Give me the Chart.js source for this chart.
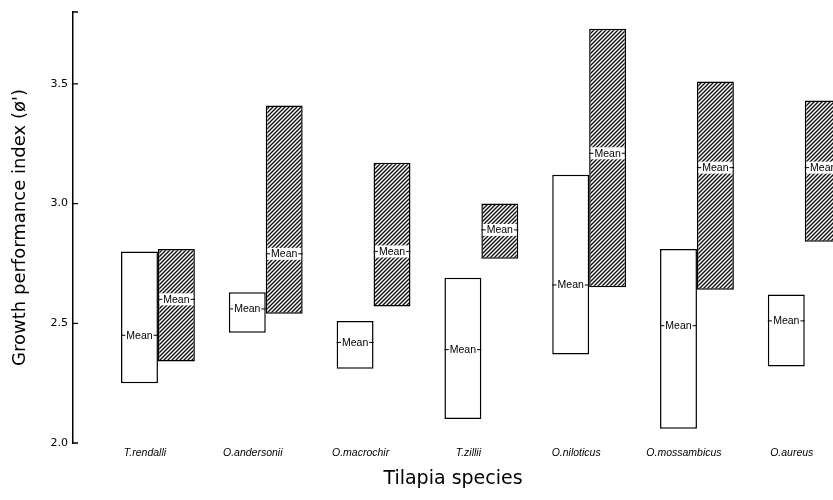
<!DOCTYPE html>
<html>
<head>
<meta charset="utf-8">
<script src="https://cdn.jsdelivr.net/npm/chart.js@4/dist/chart.umd.min.js"></script>
<style>
  body { margin: 0; background: #fff; }
  #wrap { width: 833px; height: 500px; }
</style>
</head>
<body>
<div id="wrap"><canvas id="tilapiaChart" width="833" height="500"></canvas></div>
<script>
// Data
const species = ['T.rendalli', 'O.andersonii', 'O.macrochir', 'T.zillii', 'O.niloticus', 'O.mossambicus', 'O.aureus'];
const openLow   = [2.25, 2.46, 2.31, 2.10, 2.37, 2.06, 2.32];
const openHigh  = [2.80, 2.63, 2.51, 2.69, 3.12, 2.81, 2.62];
const openMean  = [2.45, 2.56, 2.42, 2.39, 2.66, 2.49, 2.51];
const hatchLow  = [2.34, 2.54, 2.57, 2.77, 2.65, 2.64, 2.84];
const hatchHigh = [2.81, 3.41, 3.17, 3.00, 3.73, 3.51, 3.43];
const hatchMean = [2.60, 2.79, 2.80, 2.89, 3.21, 3.15, 3.15];
const yTicks = [2.0, 2.5, 3.0, 3.5];

const ctx = document.getElementById('tilapiaChart').getContext('2d');

// diagonal hatching "////"
function makeHatch() {
    const c = document.createElement('canvas');
    c.width = 4; c.height = 4;
    const p = c.getContext('2d');
    p.fillStyle = '#fff';
    p.fillRect(0, 0, 4, 4);
    p.strokeStyle = '#111';
    p.lineWidth = 1.4;
    p.beginPath();
    p.moveTo(0, 4); p.lineTo(4, 0);
    p.moveTo(-1, 1); p.lineTo(1, -1);
    p.moveTo(3, 5); p.lineTo(5, 3);
    p.stroke();
    return ctx.createPattern(c, 'repeat');
}

const meanLists = [openMean, hatchMean];

// "-Mean-" markers inside each box
const meanMarks = {
    id: 'meanMarks',
    afterDatasetsDraw(chart) {
        const c = chart.ctx;
        const ys = chart.scales.y;
        c.save();
        c.font = '10.5px "Liberation Sans", Arial, sans-serif';
        c.textAlign = 'center';
        c.textBaseline = 'middle';
        chart.data.datasets.forEach((ds, d) => {
            chart.getDatasetMeta(d).data.forEach((bar, i) => {
                const y = ys.getPixelForValue(meanLists[d][i]);
                const left = bar.x - bar.width / 2;
                const right = bar.x + bar.width / 2;
                const w = c.measureText('Mean').width;
                if (d === 1) {
                    c.fillStyle = '#fff';
                    c.fillRect(left + 1.5, y - 6, bar.width - 3, 12);
                }
                c.strokeStyle = '#000';
                c.lineWidth = 1;
                c.beginPath();
                c.moveTo(left, y); c.lineTo(bar.x - w / 2 - 1, y);
                c.moveTo(bar.x + w / 2 + 1, y); c.lineTo(right, y);
                c.stroke();
                c.fillStyle = '#000';
                c.fillText('Mean', bar.x, y + 0.5);
            });
        });
        c.restore();
    }
};

// short inward ticks on the y axis
const innerTicks = {
    id: 'innerTicks',
    afterDraw(chart) {
        const c = chart.ctx;
        const ys = chart.scales.y;
        const x0 = chart.chartArea.left;
        c.save();
        c.strokeStyle = '#000';
        c.lineWidth = 1.3;
        c.beginPath();
        yTicks.concat([ys.max]).forEach(v => {
            const y = ys.getPixelForValue(v);
            c.moveTo(x0, y); c.lineTo(x0 + 5, y);
        });
        c.stroke();
        c.restore();
    }
};

const tilapiaChart = new Chart(ctx, {
    type: 'bar',
    data: {
        datasets: [{
            label: 'Open',
            data: species.map((s, i) => ({ x: i, y: [openLow[i], openHigh[i]] })),
            backgroundColor: '#fff',
            borderColor: '#000',
            borderWidth: 1.5,
            borderSkipped: false
        }, {
            label: 'Hatched',
            data: species.map((s, i) => ({ x: i, y: [hatchLow[i], hatchHigh[i]] })),
            backgroundColor: makeHatch(),
            borderColor: '#000',
            borderWidth: 1.5,
            borderSkipped: false
        }]
    },
    options: {
        responsive: false,
        animation: false,
        categoryPercentage: 0.685,
        barPercentage: 1.0,
        layout: { padding: { top: 12, right: 0, left: 0, bottom: 0 } },
        plugins: {
            legend: { display: false },
            tooltip: { enabled: false }
        },
        scales: {
            x: {
                type: 'linear',
                offset: false,
                min: -0.788,
                max: 6.262,
                afterBuildTicks: axis => { axis.ticks = species.map((s, i) => ({ value: i })); },
                afterFit: axis => { axis.height = 57; },
                grid: { display: false, drawTicks: false, offset: false },
                border: { display: false },
                ticks: {
                    padding: 4,
                    labelOffset: -13,
                    maxRotation: 0,
                    autoSkip: false,
                    color: '#000',
                    font: { family: '"Liberation Sans", Arial, sans-serif', size: 10.5, style: 'italic', weight: 'normal' },
                    callback: v => species[v] ?? ''
                },
                title: {
                    display: true,
                    text: 'Tilapia species',
                    color: '#000',
                    padding: { top: 6, bottom: 10 },
                    font: { family: '"DejaVu Sans", sans-serif', size: 19, weight: 'normal' }
                }
            },
            y: {
                min: 2.0,
                max: 3.8,
                afterBuildTicks: axis => { axis.ticks = yTicks.map(v => ({ value: v })); },
                afterFit: axis => { axis.width = 73; },
                grid: { display: false, drawTicks: false },
                border: { display: true, color: '#000', width: 1.5 },
                ticks: {
                    padding: 5,
                    color: '#000',
                    font: { family: '"DejaVu Sans", sans-serif', size: 11 },
                    callback: v => v.toFixed(1)
                },
                title: {
                    display: true,
                    text: "Growth performance index (ø')",
                    color: '#000',
                    padding: { top: 10, bottom: 4 },
                    font: { family: '"DejaVu Sans", sans-serif', size: 18, weight: 'normal' }
                }
            }
        }
    },
    plugins: [meanMarks, innerTicks]
});
</script>
</body>
</html>
